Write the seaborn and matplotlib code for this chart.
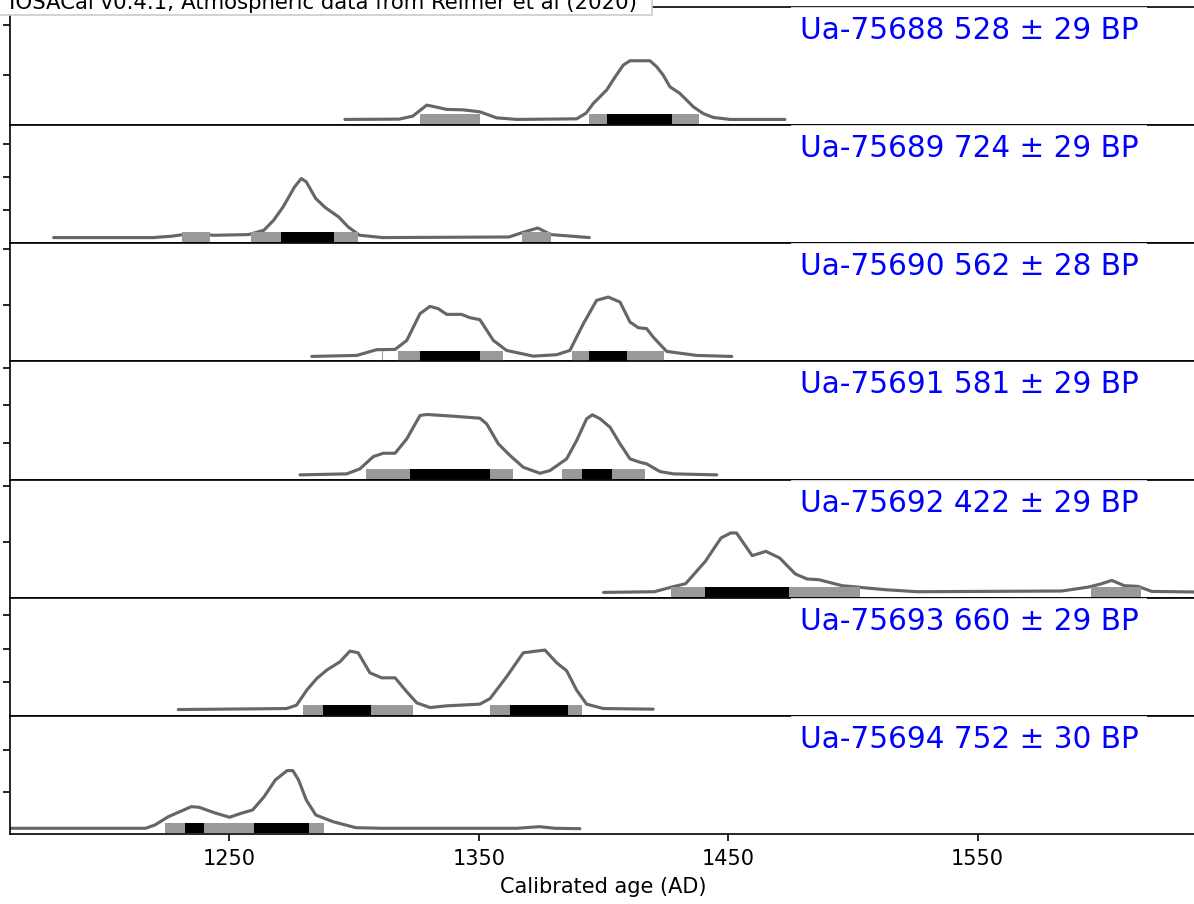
import numpy as np
import pandas as pd
import matplotlib
matplotlib.use("Agg")
import matplotlib.pyplot as plt
from matplotlib.patches import Rectangle
import seaborn as sns

# ================= DATA =================
TITLE = "IOSACal v0.4.1; Atmospheric data from Reimer et al (2020)"
LABELS = [
    "Ua-75688 528 ± 29 BP",
    "Ua-75689 724 ± 29 BP",
    "Ua-75690 562 ± 28 BP",
    "Ua-75691 581 ± 29 BP",
    "Ua-75692 422 ± 29 BP",
    "Ua-75693 660 ± 29 BP",
    "Ua-75694 752 ± 30 BP",
]

# calibrated probability curves (year AD, probability in arbitrary units)
P1_YEAR = [1296.3, 1318.0, 1323.5, 1329.1, 1333.0, 1337.1, 1343.6, 1350.4, 1357.1, 1365.2,
           1389.2, 1393.0, 1395.9, 1401.2, 1404.6, 1407.9, 1410.6, 1418.6, 1421.3, 1423.9,
           1426.6, 1430.6, 1436.0, 1440.0, 1444.0, 1450.7, 1472.7]
P1_PROB = [5.7, 6.0, 9.0, 20.0, 18.0, 15.7, 15.3, 13.3, 7.3, 5.7,
           6.3, 12.0, 21.7, 35.0, 48.0, 60.0, 64.3, 64.3, 58.3, 50.0,
           38.3, 31.7, 18.3, 11.5, 7.7, 5.7, 5.7]

P2_YEAR = [1179.5, 1219.3, 1226.5, 1234.7, 1243.9, 1257.7, 1263.8, 1267.7, 1271.5, 1276.1,
           1278.8, 1280.8, 1284.6, 1288.4, 1293.8, 1297.6, 1302.2, 1311.4, 1362.1, 1368.2,
           1373.6, 1378.9, 1394.3]
P2_PROB = [5.7, 5.7, 7.0, 9.7, 8.0, 8.7, 13.0, 23.0, 36.3, 56.3,
           64.7, 61.3, 44.7, 35.7, 26.3, 16.3, 8.0, 5.7, 6.3, 11.3,
           15.3, 8.7, 5.7]

P3_YEAR = [1283.0, 1301.0, 1309.0, 1316.4, 1321.1, 1326.4, 1330.4, 1333.7, 1337.1, 1343.1,
           1346.4, 1350.4, 1355.8, 1361.1, 1371.8, 1381.2, 1386.5, 1391.9, 1397.2, 1401.9,
           1406.6, 1410.6, 1413.9, 1417.3, 1419.9, 1425.3, 1437.3, 1451.4]
P3_PROB = [5.0, 6.0, 11.7, 12.0, 21.0, 47.7, 55.0, 52.7, 47.0, 47.0,
           43.7, 41.7, 21.0, 11.0, 5.3, 6.7, 11.0, 37.7, 61.0, 64.3,
           59.3, 39.3, 33.7, 32.7, 24.3, 10.0, 6.0, 5.0]

P4_YEAR = [1278.3, 1297.0, 1302.3, 1307.7, 1311.7, 1316.4, 1321.1, 1326.4, 1329.1, 1339.7,
           1350.4, 1353.1, 1357.8, 1362.5, 1367.8, 1374.5, 1378.5, 1385.2, 1389.2, 1393.2,
           1395.5, 1398.6, 1402.6, 1406.6, 1410.6, 1414.6, 1417.3, 1422.6, 1428.0, 1445.4]
P4_PROB = [4.7, 5.7, 10.7, 23.0, 26.3, 26.3, 40.7, 64.0, 65.0, 63.3,
           61.3, 55.7, 35.7, 24.0, 12.3, 6.3, 9.0, 20.7, 39.0, 60.7,
           64.7, 60.7, 52.3, 35.7, 20.7, 17.3, 15.7, 8.0, 5.7, 4.7]

P5_YEAR = [1400.0, 1420.4, 1427.4, 1432.9, 1440.8, 1447.1, 1451.0, 1453.3, 1459.6, 1465.1,
           1470.6, 1476.9, 1481.6, 1486.3, 1495.7, 1513.0, 1525.6, 1583.7, 1594.6, 1599.3,
           1603.8, 1608.8, 1614.3, 1619.8, 1650.0]
P5_PROB = [5.3, 6.0, 10.7, 14.0, 36.3, 59.7, 64.7, 64.7, 42.0, 46.3,
           39.7, 23.7, 18.7, 18.0, 12.0, 8.0, 6.0, 6.7, 10.7, 13.7,
           17.3, 12.0, 11.3, 6.3, 5.3]

P6_YEAR = [1229.5, 1272.9, 1276.9, 1281.0, 1285.0, 1289.0, 1294.3, 1298.3, 1301.6, 1306.3,
           1311.0, 1316.4, 1321.1, 1325.1, 1330.4, 1337.1, 1350.4, 1354.5, 1361.1, 1367.8,
           1373.2, 1376.5, 1381.2, 1385.2, 1389.2, 1393.2, 1399.9, 1419.9]
P6_PROB = [6.3, 7.3, 10.7, 25.7, 37.3, 45.7, 54.0, 64.7, 63.0, 43.0,
           38.0, 38.0, 24.0, 13.0, 8.3, 10.0, 11.7, 17.3, 39.0, 63.0,
           64.7, 65.7, 53.0, 45.0, 25.7, 11.7, 7.3, 6.7]

P7_YEAR = [1150.0, 1216.3, 1220.1, 1225.5, 1230.1, 1234.7, 1237.8, 1243.9, 1250.0, 1254.7,
           1259.3, 1263.9, 1268.4, 1273.1, 1275.4, 1277.7, 1280.8, 1284.6, 1291.5, 1300.7,
           1311.4, 1365.1, 1374.3, 1380.5, 1390.5]
P7_PROB = [5.7, 5.7, 9.0, 17.3, 22.3, 27.3, 26.7, 21.3, 16.7, 20.7,
           24.0, 37.3, 54.0, 63.3, 63.3, 54.0, 34.0, 19.0, 12.3, 6.3,
           5.7, 5.7, 7.3, 5.7, 5.3]

# highest density ranges (year AD)
HDR95 = [
    [(1326.4, 1350.4), (1394.1, 1438.1)],
    [(1230.9, 1242.1), (1258.5, 1301.4), (1367.4, 1379.0)],
    [(1311.0, 1311.5), (1317.7, 1359.5), (1387.3, 1424.2)],
    [(1304.7, 1363.6), (1383.3, 1416.6)],
    [(1427.0, 1502.8), (1595.5, 1615.4)],
    [(1279.4, 1323.5), (1354.5, 1391.2)],
    [(1224.0, 1287.9)],
]
HDR68 = [
    [(1401.3, 1427.4)],
    [(1270.8, 1291.9)],
    [(1326.4, 1350.4), (1394.3, 1409.3)],
    [(1322.4, 1354.5), (1391.3, 1403.4)],
    [(1440.5, 1474.5)],
    [(1287.4, 1306.7), (1362.5, 1385.9)],
    [(1232.0, 1239.8), (1260.0, 1282.0)],
]

YEARS = [P1_YEAR, P2_YEAR, P3_YEAR, P4_YEAR, P5_YEAR, P6_YEAR, P7_YEAR]
PROBS = [P1_PROB, P2_PROB, P3_PROB, P4_PROB, P5_PROB, P6_PROB, P7_PROB]
TICK_STEP = [50, 33, 56, 37, 56, 33.5, 42]

# ================= STYLE =================
sns.set_style("ticks")
plt.rcParams.update({
    "font.family": ["DejaVu Sans"],
    "axes.edgecolor": "black",
    "axes.linewidth": 0.8,
    "text.color": "black",
    "axes.labelcolor": "black",
    "xtick.color": "black",
    "ytick.color": "black",
    "xtick.major.size": 3.5,
    "ytick.major.size": 3.5,
    "xtick.major.width": 0.8,
    "ytick.major.width": 0.8,
    "font.size": 10,
})

W, H, DPI = 1194, 904, 150
fig, axes = plt.subplots(7, 1, sharex=True, figsize=(W / DPI, H / DPI), dpi=DPI,
                         gridspec_kw=dict(hspace=0))
fig.subplots_adjust(left=10 / W, right=1.002, bottom=70 / H, top=897 / H)

for i, ax in enumerate(axes):
    df = pd.DataFrame({"year": YEARS[i], "prob": PROBS[i]})
    sns.lineplot(data=df, x="year", y="prob", ax=ax, color="#666666",
                 linewidth=1.5, sort=False, zorder=2)
    ax.broken_barh([(a, b - a) for a, b in HDR95[i]], (0.8, 10),
                   facecolor="#999999", edgecolor="none", linewidth=0, zorder=3)
    ax.broken_barh([(a, b - a) for a, b in HDR68[i]], (0.8, 10),
                   facecolor="black", edgecolor="none", linewidth=0, zorder=4)
    ax.set_ylim(0, 118)
    ax.set_yticks(np.arange(TICK_STEP[i], 118, TICK_STEP[i]))
    ax.set_yticklabels([])
    ax.set_ylabel("")
    ax.set_xlabel("")
    for s in ["top", "right", "left", "bottom"]:
        ax.spines[s].set_visible(True)
    ax.tick_params(axis="y", left=True, right=False)
    ax.tick_params(axis="x", top=False, bottom=(i == 6), labelbottom=(i == 6))
    ax.text(0.6655, 1 - 32 / 118, LABELS[i], transform=ax.transAxes,
            fontsize=14.2, color="blue", ha="left", va="baseline", zorder=6,
            bbox=dict(boxstyle="square,pad=0.3", facecolor="white",
                      edgecolor="none", alpha=0.8))

axes[-1].set_xlim(1162.0, 1637.7)
axes[-1].set_xticks([1250, 1350, 1450, 1550])
axes[-1].set_xlabel("Calibrated age (AD)")

# header box, partly cut by the top edge as in the original
fig.patches.append(Rectangle((-0.01, 1 - 15 / H), 652 / W + 0.01, 0.05,
                             transform=fig.transFigure, facecolor="white",
                             edgecolor="0.8", linewidth=0.8, zorder=1))
fig.text(9 / W, 1 - 9 / H, TITLE, ha="left", va="baseline", fontsize=10.2, zorder=3)

fig.savefig("out.png", dpi=DPI)
